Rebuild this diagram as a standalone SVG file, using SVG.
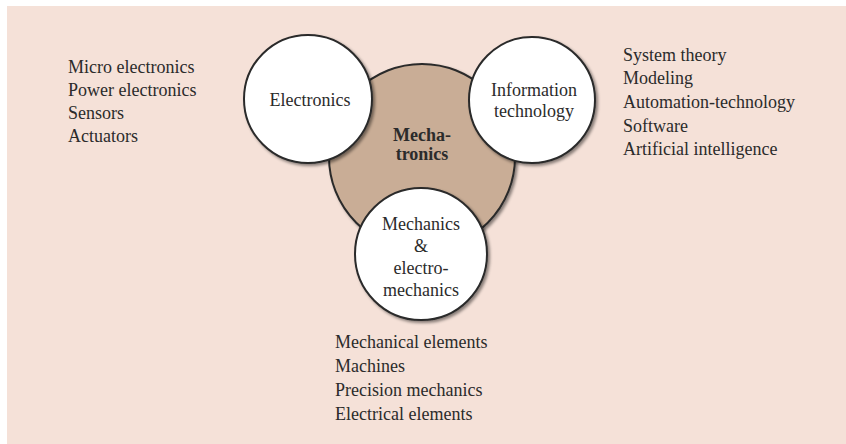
<svg xmlns="http://www.w3.org/2000/svg" width="846" height="444" viewBox="0 0 846 444">
  <style>
    .txt { font-family: "Liberation Serif", "Times New Roman", serif; font-size: 18px; fill: #2b2b2b; }
    .mid { text-anchor: middle; }
    .bold { font-weight: bold; }
    .disc { fill: #ffffff; stroke: #2a2a2a; stroke-width: 2; filter: url(#shade); }
    .core { fill: #c9ad96; stroke: #2a2a2a; stroke-width: 2; filter: url(#shade); }
  </style>
  <defs>
    <filter id="shade" x="-20%" y="-20%" width="140%" height="140%">
      <feDropShadow dx="2" dy="2" stdDeviation="1.8" flood-color="#000000" flood-opacity="0.45"/>
    </filter>
  </defs>

  <!-- page -->
  <rect x="0" y="0" width="846" height="444" fill="#ffffff"/>
  <rect x="7" y="6" width="839" height="438" fill="#f5e1d8"/>

  <!-- central discipline -->
  <g id="mechatronics">
    <circle class="core" cx="422" cy="157" r="93"/>
    <text class="txt bold mid" x="422" y="141">Mecha-</text>
    <text class="txt bold mid" x="422" y="160">tronics</text>
  </g>

  <g id="electronics">
    <circle class="disc" cx="308" cy="99" r="64"/>
    <text class="txt mid" x="310" y="106">Electronics</text>
  </g>

  <g id="information-technology">
    <circle class="disc" cx="532" cy="100" r="63"/>
    <text class="txt mid" x="534" y="96">Information</text>
    <text class="txt mid" x="534" y="117">technology</text>
  </g>

  <g id="mechanics">
    <circle class="disc" cx="421" cy="254" r="66"/>
    <text class="txt mid" x="421" y="230">Mechanics</text>
    <text class="txt mid" x="421" y="252">&amp;</text>
    <text class="txt mid" x="421" y="274">electro-</text>
    <text class="txt mid" x="421" y="296">mechanics</text>
  </g>

  <g id="connectors"></g>

  <!-- topic lists -->
  <g id="electronics-topics">
    <text class="txt" x="68" y="73">Micro electronics</text>
    <text class="txt" x="68" y="96">Power electronics</text>
    <text class="txt" x="68" y="119">Sensors</text>
    <text class="txt" x="68" y="142">Actuators</text>
  </g>

  <g id="information-topics">
    <text class="txt" x="623" y="61">System  theory</text>
    <text class="txt" x="623" y="84">Modeling</text>
    <text class="txt" x="623" y="108">Automation-technology</text>
    <text class="txt" x="623" y="132">Software</text>
    <text class="txt" x="623" y="155">Artificial intelligence</text>
  </g>

  <g id="mechanics-topics">
    <text class="txt" x="335" y="348">Mechanical elements</text>
    <text class="txt" x="335" y="372">Machines</text>
    <text class="txt" x="335" y="396">Precision mechanics</text>
    <text class="txt" x="335" y="420">Electrical elements</text>
  </g>
</svg>
